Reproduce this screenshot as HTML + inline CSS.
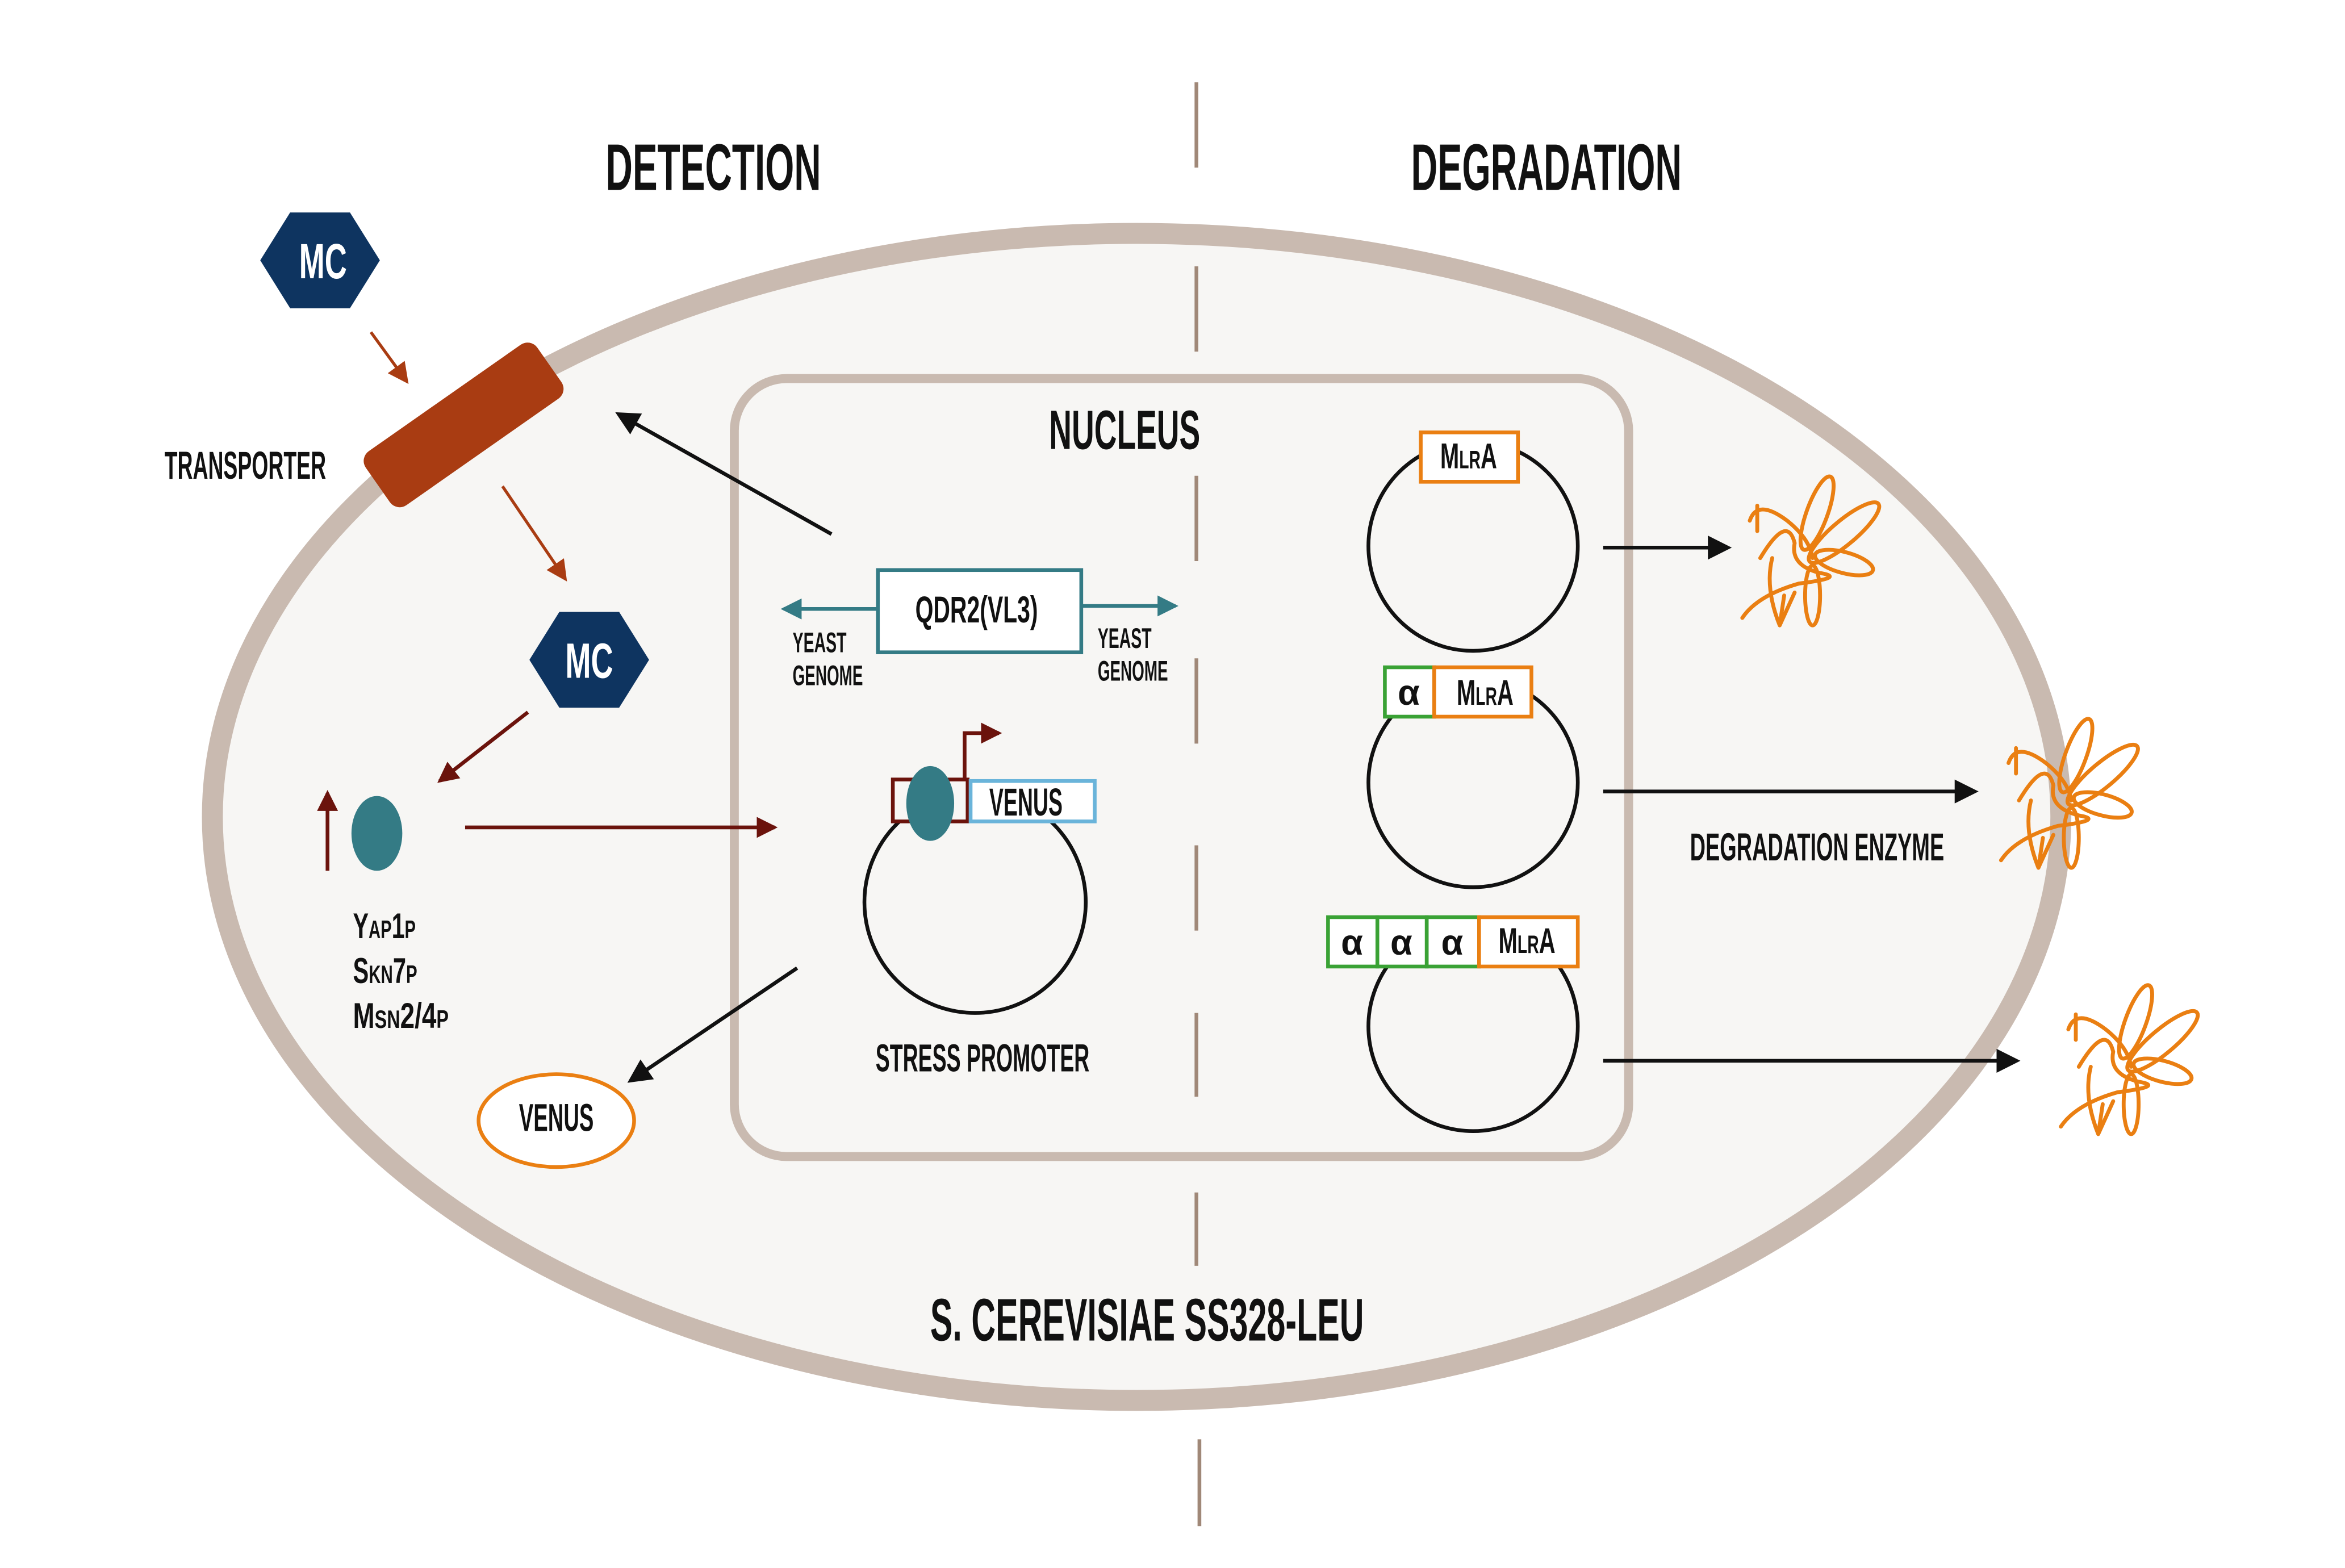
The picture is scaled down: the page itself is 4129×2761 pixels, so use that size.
<!DOCTYPE html>
<html><head><meta charset="utf-8"><style>
html,body{margin:0;padding:0;background:#fff}
svg{display:block}
text{font-family:"Liberation Sans Narrow","Liberation Sans",sans-serif;font-weight:bold;fill:#111}
</style></head><body>
<svg width="4129" height="2761" viewBox="0 0 1568 1048" preserveAspectRatio="none" xmlns="http://www.w3.org/2000/svg">
<defs>
<marker id="ar" markerWidth="14" markerHeight="14" refX="12" refY="7" orient="auto" markerUnits="userSpaceOnUse"><path d="M0,0 L14,7 L0,14z" fill="#6b130c"/></marker>
<marker id="ao" markerWidth="14" markerHeight="14" refX="12" refY="7" orient="auto" markerUnits="userSpaceOnUse"><path d="M0,0 L14,7 L0,14z" fill="#a93c12"/></marker>
<marker id="at" markerWidth="14" markerHeight="14" refX="12" refY="7" orient="auto" markerUnits="userSpaceOnUse"><path d="M0,0 L14,7 L0,14z" fill="#347b85"/></marker>
<marker id="ak" markerWidth="16" markerHeight="16" refX="13" refY="8" orient="auto" markerUnits="userSpaceOnUse"><path d="M0,0 L16,8 L0,16z" fill="#111"/></marker>
<g id="enz" fill="none" stroke="#ea7f12" stroke-width="2.6" stroke-linecap="round">
<ellipse cx="10" cy="-25" rx="7" ry="26" transform="rotate(20 10 -25)"/>
<ellipse cx="28" cy="-12" rx="30" ry="8" transform="rotate(-40 28 -12)"/>
<ellipse cx="28" cy="8" rx="20" ry="7" transform="rotate(15 28 8)"/>
<ellipse cx="7" cy="30" rx="5" ry="20"/>
<path d="M-28,5 Q-10,-25 -5,-5 Q-8,10 12,15 Q30,18 -2,22 Q-30,30 -40,45"/>
<path d="M-35,-20 Q-30,-35 -10,-20 Q5,-8 7,5"/>
<path d="M-30,-30 L-30,-13 M-12,30 L-15,50 L-5,28"/>
<path d="M-20,5 Q-25,25 -15,50"/>
</g>
</defs>

<g stroke="#a08878" stroke-width="2.5">
<line x1="800" y1="55" x2="800" y2="112"/><line x1="802" y1="962" x2="802" y2="1020"/>
</g>

<text x="477" y="127" font-size="44" text-anchor="middle" textLength="144" lengthAdjust="spacingAndGlyphs">DETECTION</text>
<text x="1034" y="127" font-size="44" text-anchor="middle" textLength="181" lengthAdjust="spacingAndGlyphs">DEGRADATION</text>

<ellipse cx="760" cy="546" rx="618" ry="390" fill="#f7f6f4" stroke="#c9bab0" stroke-width="14"/>
<g stroke="#a08878" stroke-width="2.5">
<line x1="800" y1="178" x2="800" y2="235"/><line x1="800" y1="797" x2="800" y2="846"/>
</g>
<rect x="491" y="253" width="598" height="520" rx="35" fill="#f7f6f4" stroke="#c9bab0" stroke-width="6"/>
<g stroke="#a08878" stroke-width="2.5">
<line x1="800" y1="318" x2="800" y2="375"/><line x1="800" y1="440" x2="800" y2="497"/>
<line x1="800" y1="565" x2="800" y2="622"/><line x1="800" y1="677" x2="800" y2="733"/>
</g>
<text x="752" y="300" font-size="37" text-anchor="middle" textLength="101" lengthAdjust="spacingAndGlyphs">NUCLEUS</text>

<g>
<polygon points="174,174 194,142 234,142 254,174 234,206 194,206" fill="#0e3460"/>
<text x="216" y="186" font-size="33" style="fill:#fff" text-anchor="middle" textLength="32" lengthAdjust="spacingAndGlyphs">MC</text>
</g>
<line x1="248" y1="222" x2="272" y2="255" stroke="#a93c12" stroke-width="2" marker-end="url(#ao)"/>
<rect x="240" y="262" width="140" height="44" rx="8" fill="#a93c12" transform="rotate(-35 310 284)"/>
<text x="164" y="320" font-size="26" text-anchor="middle" textLength="108" lengthAdjust="spacingAndGlyphs">TRANSPORTER</text>
<line x1="336" y1="325" x2="378" y2="387" stroke="#a93c12" stroke-width="2" marker-end="url(#ao)"/>
<g>
<polygon points="354,441 374,409 414,409 434,441 414,473 374,473" fill="#0e3460"/>
<text x="394" y="453" font-size="33" style="fill:#fff" text-anchor="middle" textLength="32" lengthAdjust="spacingAndGlyphs">MC</text>
</g>
<line x1="353" y1="476" x2="294" y2="522" stroke="#6b130c" stroke-width="2.5" marker-end="url(#ar)"/>
<line x1="219" y1="582" x2="219" y2="530" stroke="#6b130c" stroke-width="2.5" marker-end="url(#ar)"/>
<ellipse cx="252" cy="557" rx="17" ry="25" fill="#347b85"/>
<g font-size="24">
<text x="236" y="627" textLength="42" lengthAdjust="spacingAndGlyphs">Y<tspan font-size="17">AP</tspan>1<tspan font-size="17">P</tspan></text>
<text x="236" y="657" textLength="43" lengthAdjust="spacingAndGlyphs">S<tspan font-size="17">KN</tspan>7<tspan font-size="17">P</tspan></text>
<text x="236" y="687" textLength="64" lengthAdjust="spacingAndGlyphs">M<tspan font-size="17">SN</tspan>2/4<tspan font-size="17">P</tspan></text>
</g>
<line x1="311" y1="553" x2="518" y2="553" stroke="#6b130c" stroke-width="2.5" marker-end="url(#ar)"/>

<line x1="556" y1="357" x2="414" y2="277" stroke="#111" stroke-width="2.5" marker-end="url(#ak)"/>
<line x1="587" y1="407" x2="524" y2="407" stroke="#347b85" stroke-width="2.5" marker-end="url(#at)"/>
<line x1="723" y1="405" x2="786" y2="405" stroke="#347b85" stroke-width="2.5" marker-end="url(#at)"/>
<rect x="587" y="381" width="136" height="55" fill="#fff" stroke="#347b85" stroke-width="2.5"/>
<text x="653" y="416" font-size="25" text-anchor="middle" textLength="82" lengthAdjust="spacingAndGlyphs">QDR2(VL3)</text>
<text x="530" y="436" font-size="19" textLength="36" lengthAdjust="spacingAndGlyphs">YEAST</text>
<text x="530" y="458" font-size="19" textLength="47" lengthAdjust="spacingAndGlyphs">GENOME</text>
<text x="734" y="433" font-size="19" textLength="36" lengthAdjust="spacingAndGlyphs">YEAST</text>
<text x="734" y="455" font-size="19" textLength="47" lengthAdjust="spacingAndGlyphs">GENOME</text>

<circle cx="652" cy="603" r="74" fill="none" stroke="#111" stroke-width="2.5"/>
<rect x="597" y="521" width="50" height="28" fill="#f7f6f4" stroke="#6b130c" stroke-width="2.5"/>
<path d="M645,521 L645,490 L668,490" fill="none" stroke="#6b130c" stroke-width="2.5" marker-end="url(#ar)"/>
<ellipse cx="622" cy="537" rx="16" ry="25" fill="#347b85"/>
<rect x="649" y="522" width="83" height="27" fill="#fff" stroke="#6ab4da" stroke-width="2.5"/>
<text x="686" y="545" font-size="26" text-anchor="middle" textLength="49" lengthAdjust="spacingAndGlyphs">VENUS</text>
<text x="657" y="716" font-size="26" text-anchor="middle" textLength="143" lengthAdjust="spacingAndGlyphs">STRESS PROMOTER</text>
<line x1="533" y1="647" x2="422" y2="722" stroke="#111" stroke-width="2.5" marker-end="url(#ak)"/>
<ellipse cx="372" cy="749" rx="52" ry="31" fill="#fff" stroke="#ea7f12" stroke-width="2.5"/>
<text x="372" y="756" font-size="26" text-anchor="middle" textLength="50" lengthAdjust="spacingAndGlyphs">VENUS</text>

<g>
<circle cx="985" cy="365" r="70" fill="none" stroke="#111" stroke-width="2.5"/>
<rect x="950" y="289" width="65" height="33" fill="#fff" stroke="#ea7f12" stroke-width="2.5"/>
<text x="982" y="313" font-size="24" text-anchor="middle" textLength="38" lengthAdjust="spacingAndGlyphs">M<tspan font-size="17">LR</tspan>A</text>
</g>
<line x1="1072" y1="366" x2="1155" y2="366" stroke="#111" stroke-width="2.5" marker-end="url(#ak)"/>
<use href="#enz" x="1205" y="368"/>

<g>
<circle cx="985" cy="523" r="70" fill="none" stroke="#111" stroke-width="2.5"/>
<rect x="926" y="446" width="33" height="33" fill="#fff" stroke="#3aa235" stroke-width="2.5"/>
<text x="942" y="471" font-size="24" text-anchor="middle" font-family="Liberation Serif">α</text>
<rect x="959" y="446" width="65" height="33" fill="#fff" stroke="#ea7f12" stroke-width="2.5"/>
<text x="993" y="471" font-size="24" text-anchor="middle" textLength="38" lengthAdjust="spacingAndGlyphs">M<tspan font-size="17">LR</tspan>A</text>
</g>
<line x1="1072" y1="529" x2="1320" y2="529" stroke="#111" stroke-width="2.5" marker-end="url(#ak)"/>
<use href="#enz" x="1378" y="530"/>
<text x="1215" y="575" font-size="26" text-anchor="middle" textLength="170" lengthAdjust="spacingAndGlyphs">DEGRADATION ENZYME</text>

<g>
<circle cx="985" cy="686" r="70" fill="none" stroke="#111" stroke-width="2.5"/>
<rect x="888" y="613" width="33" height="33" fill="#fff" stroke="#3aa235" stroke-width="2.5"/>
<rect x="921" y="613" width="33" height="33" fill="#fff" stroke="#3aa235" stroke-width="2.5"/>
<rect x="954" y="613" width="35" height="33" fill="#fff" stroke="#3aa235" stroke-width="2.5"/>
<text x="904" y="638" font-size="24" text-anchor="middle" font-family="Liberation Serif">α</text>
<text x="937" y="638" font-size="24" text-anchor="middle" font-family="Liberation Serif">α</text>
<text x="971" y="638" font-size="24" text-anchor="middle" font-family="Liberation Serif">α</text>
<rect x="989" y="613" width="66" height="33" fill="#fff" stroke="#ea7f12" stroke-width="2.5"/>
<text x="1021" y="637" font-size="24" text-anchor="middle" textLength="38" lengthAdjust="spacingAndGlyphs">M<tspan font-size="17">LR</tspan>A</text>
</g>
<line x1="1072" y1="709" x2="1348" y2="709" stroke="#111" stroke-width="2.5" marker-end="url(#ak)"/>
<use href="#enz" x="1418" y="708"/>

<text x="767" y="896" font-size="40" text-anchor="middle" textLength="290" lengthAdjust="spacingAndGlyphs">S. CEREVISIAE SS328-LEU</text>
</svg>
</body></html>
